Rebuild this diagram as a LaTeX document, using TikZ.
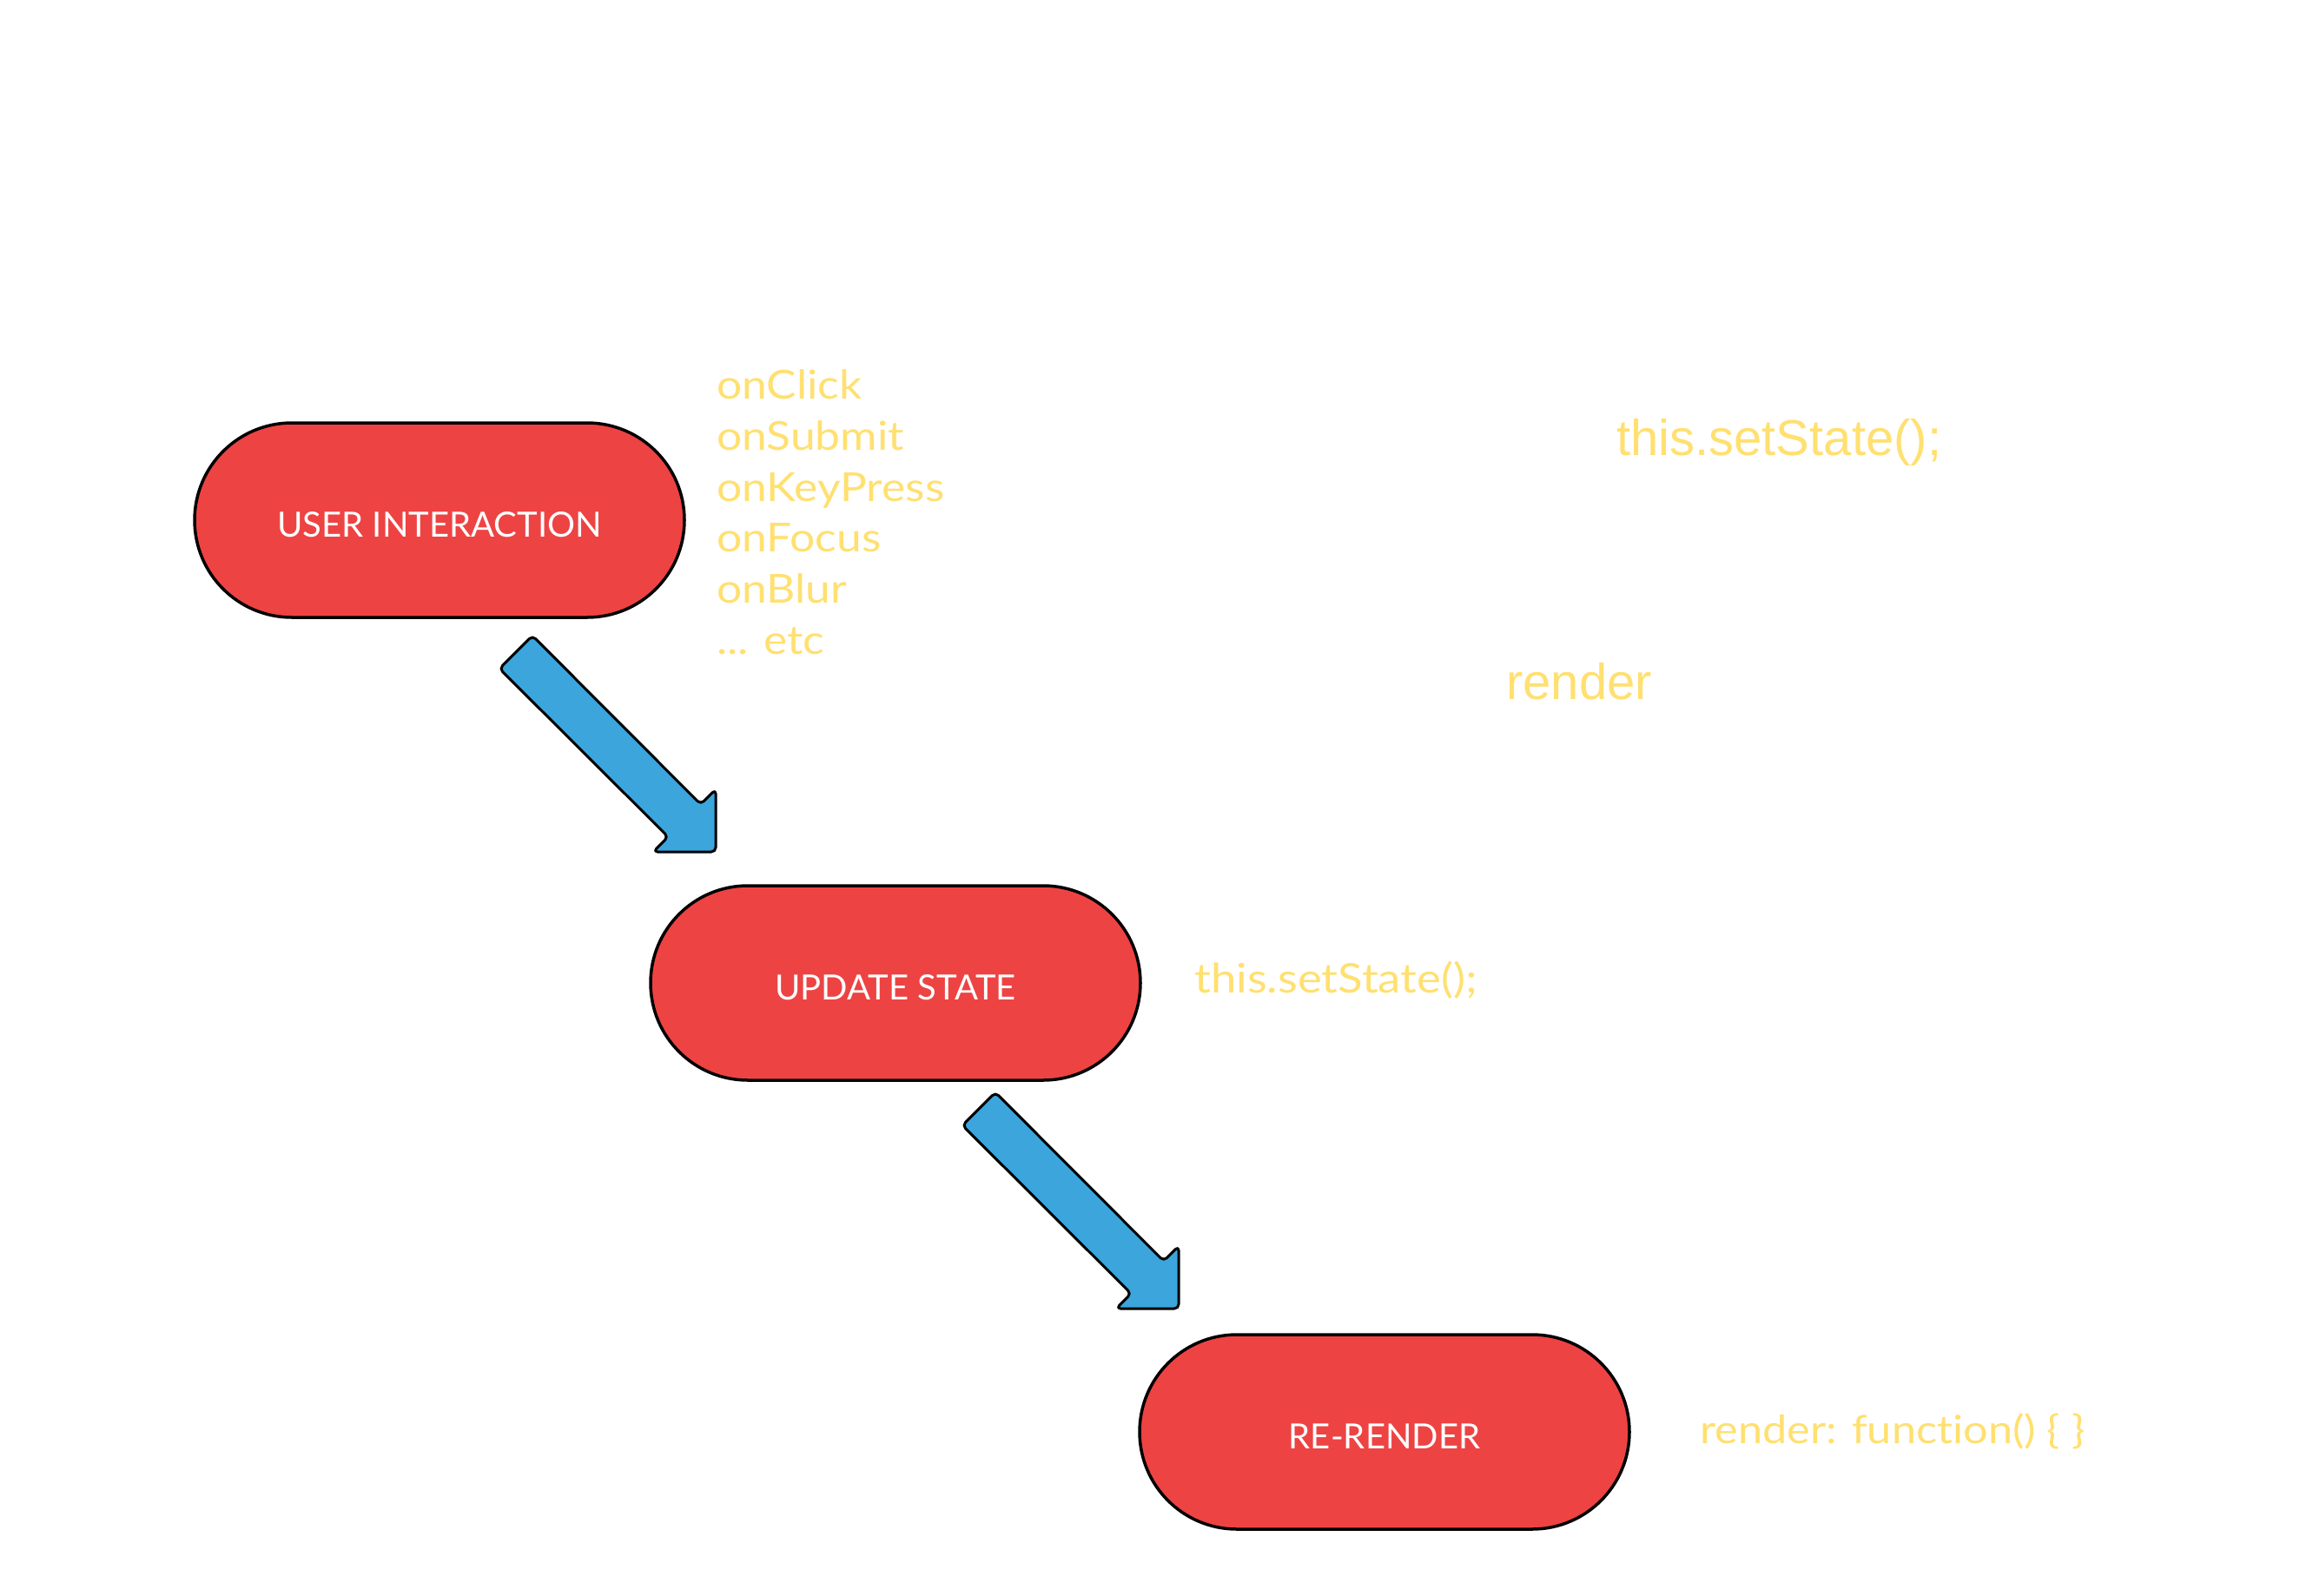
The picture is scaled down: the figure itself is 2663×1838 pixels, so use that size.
\documentclass[tikz,border=0pt]{standalone}
\usepackage{fontspec}
\setmainfont{Lato}[Ligatures=NoCommon]
\newfontfamily\listf[FakeStretch=1.12,Ligatures=NoCommon]{Lato}
\newfontfamily\arialf{Liberation Sans}
\definecolor{nodered}{RGB}{238,67,67}
\definecolor{arrowblue}{RGB}{59,165,220}
\definecolor{codeyellow}{RGB}{255,224,112}
\tikzset{
  stadium/.style={draw=black, line width=3.5pt, fill=nodered, rounded corners=112pt,
    minimum width=564pt, minimum height=224pt, inner sep=0pt, text=white,
    font=\fontsize{40}{44}\selectfont, text height=39pt, text depth=0pt},
  codetxt/.style={anchor=base west, inner sep=0pt, text=codeyellow},
  listtxt/.style={codetxt, font=\listf\fontsize{46}{50}\selectfont},
  arialtxt/.style={codetxt, font=\arialf\fontsize{58}{62}\selectfont}
}
\tikzset{blockarrow/.style={draw=black, line width=3pt, fill=arrowblue, line join=round, rounded corners=5pt}}
\newcommand\blockarrowat[1]{%
  \draw[blockarrow, shift={(#1)}] (0,-72) -- (-17.25,-54.75) -- (-211,-249) -- (-249,-211)
    -- (-54.75,-17.25) -- (-72,0) -- (0,0) -- cycle;}
\begin{document}
\begin{tikzpicture}[x=1pt,y=-1pt]
\useasboundingbox (0,0) rectangle (2663,1838);
\fill[white] (0,0) rectangle (2663,1838);

\node[stadium] (ui) at (506,599) {USER INTERACTION};
\node[stadium] (us) at (1031,1132) {UPDATE STATE};
\node[stadium] (rr) at (1594,1649) {RE-RENDER};

\coordinate (tip1) at (824,981);
\coordinate (tip2) at (1357,1507);
\blockarrowat{tip1}
\blockarrowat{tip2}

\node[listtxt] (l1) at (825,459) {onClick};
\node[listtxt] (l2) at (825,518) {onSubmit};
\node[listtxt] (l3) at (825,577) {onKeyPress};
\node[listtxt] (l4) at (825,635) {onFocus};
\node[listtxt] (l5) at (825,694) {onBlur};
\node[listtxt] (l6) at (825,753) {... etc};

\node[arialtxt] (ss1) at (1861,524) {this.setState();};
\node[arialtxt] (rd1) at (1734,805) {render};

\node[listtxt, font=\listf\fontsize{47}{51}\selectfont] (ss2) at (1375,1143) {this.setState();};
\node[listtxt, font=\listf\fontsize{45}{49}\selectfont] (rd2) at (1957,1662) {render: function() \{ \}};
\end{tikzpicture}
\end{document}
